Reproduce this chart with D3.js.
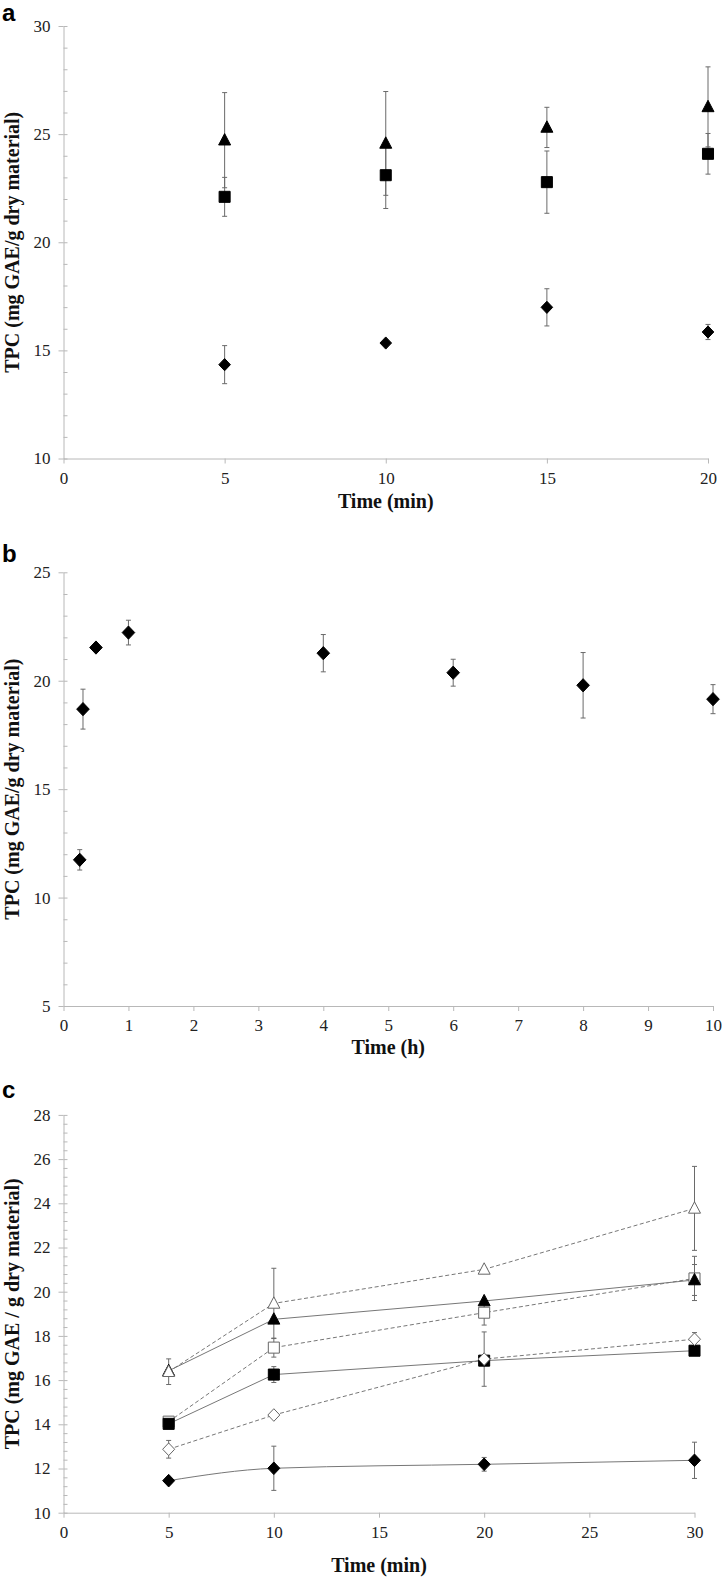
<!DOCTYPE html>
<html>
<head>
<meta charset="utf-8">
<script src="https://cdn.jsdelivr.net/npm/d3@7"></script>
<style>
  html, body { margin: 0; padding: 0; background: #fff; }
  svg { display: block; }
  .ttl { font-family: "Liberation Serif", "Times New Roman", serif; font-weight: bold; font-size: 20px; fill: #111; }
  .plab { font-family: "Liberation Sans", Arial, sans-serif; font-weight: bold; font-size: 24px; fill: #000; }
</style>
</head>
<body>
<svg id="chart" width="722" height="1578"></svg>
<script>
// ---------- Panel a ----------
const aTimes = [5, 10, 15, 20];
const aTriangle = [24.72, 24.57, 25.31, 26.26];
const aTriangleErr = [2.2, 2.4, 0.93, 1.85];
const aSquare = [22.1, 23.1, 22.78, 24.09];
const aSquareErr = [0.9, 1.54, 1.44, 0.94];
const aDiamond = [14.34, 15.34, 16.99, 15.85];
const aDiamondErr = [0.88, 0, 0.86, 0.35];
const aXTicks = [0, 5, 10, 15, 20];
const aYTicks = [10, 15, 20, 25, 30];

// ---------- Panel b ----------
const bTimes = [0.25, 0.3, 0.5, 1, 4, 6, 8, 10];
const bTPC = [11.74, 18.69, 21.53, 22.22, 21.27, 20.37, 19.79, 19.15];
const bErr = [0.47, 0.92, 0, 0.57, 0.86, 0.62, 1.51, 0.67];
const bXTicks = [0, 1, 2, 3, 4, 5, 6, 7, 8, 9, 10];
const bYTicks = [5, 10, 15, 20, 25];

// ---------- Panel c ----------
const cTimes = [5, 10, 20, 30];
const cFilledDiamond = [11.45, 12.01, 12.19, 12.37];
const cFilledDiamondErr = [0, 1.0, 0.31, 0.82];
const cOpenDiamond = [12.87, 14.42, 16.95, 17.85];
const cOpenDiamondErr = [0.4, 0, 1.23, 0.3];
const cFilledSquare = [14.02, 16.25, 16.88, 17.33];
const cFilledSquareErr = [0, 0.36, 0, 0];
const cOpenSquare = [14.12, 17.47, 19.05, 20.6];
const cOpenSquareErr = [0, 0.43, 0.56, 1.0];
const cFilledTriangle = [16.42, 18.75, 19.58, 20.53];
const cFilledTriangleErr = [0, 0, 0, 0.7];
const cOpenTriangle = [16.38, 19.47, 21.01, 23.77];
const cOpenTriangleErr = [0.58, 1.59, 0, 1.9];
const cXTicks = [0, 5, 10, 15, 20, 25, 30];
const cYTicks = [10, 12, 14, 16, 18, 20, 22, 24, 26, 28];

const svg = d3.select("#chart");
const AXIS = "#b8b8b8";
const ERR = "#6a6a6a";
const SERIF = "'Liberation Serif', 'Times New Roman', serif";

function shapePath(shape, s) {
  if (shape === "triangle") return `M0,${-s * 1.1}L${s},${s * 0.8}L${-s},${s * 0.8}Z`;
  if (shape === "square") return `M${-s * 0.92},${-s * 0.92}H${s * 0.92}V${s * 0.92}H${-s * 0.92}Z`;
  return `M0,${-s * 1.05}L${s},0L0,${s * 1.05}L${-s},0Z`;
}

function styleAxis(sel) {
  sel.attr("font-family", SERIF).attr("font-size", 17);
  sel.select(".domain").attr("stroke", AXIS);
  sel.selectAll("line").attr("stroke", AXIS);
  sel.selectAll("text").attr("fill", "#222").style("font-family", SERIF).style("font-size", "17px");
}

function makePanel(cfg) {
  const g = svg.append("g");
  const x = d3.scaleLinear().domain(cfg.xDomain).range(cfg.xRange);
  const y = d3.scaleLinear().domain(cfg.yDomain).range(cfg.yRange);

  // minor y ticks (inside)
  const minor = d3.range(cfg.yDomain[0], cfg.yDomain[1] + 1e-9, cfg.yMinor);
  const gm = g.append("g").attr("transform", `translate(${cfg.xRange[0]},0)`)
    .call(d3.axisRight(y).tickValues(minor).tickSize(4).tickFormat(""));
  gm.select(".domain").remove();
  gm.selectAll("line").attr("stroke", AXIS);

  // y axis
  const gy = g.append("g").attr("transform", `translate(${cfg.xRange[0]},0)`)
    .call(d3.axisLeft(y).tickValues(cfg.yTicks).tickSize(5).tickPadding(8).tickSizeOuter(0));
  styleAxis(gy);

  // x axis
  const gx = g.append("g").attr("transform", `translate(0,${cfg.yRange[0]})`)
    .call(d3.axisBottom(x).tickValues(cfg.xTicks).tickSize(5).tickPadding(8).tickSizeOuter(0));
  styleAxis(gx);

  // titles
  g.append("text").attr("class", "ttl").attr("text-anchor", "middle")
    .attr("x", (cfg.xRange[0] + cfg.xRange[1]) / 2).attr("y", cfg.xTitleY).text(cfg.xTitle);
  const cy = (cfg.yRange[0] + cfg.yRange[1]) / 2;
  g.append("text").attr("class", "ttl").attr("text-anchor", "middle")
    .attr("transform", `translate(19,${cy}) rotate(-90)`).text(cfg.yTitle);
  g.append("text").attr("class", "plab").attr("x", 2).attr("y", cfg.labelY).text(cfg.label);

  // lines
  cfg.series.forEach(s => {
    const pts = cfg.times.map((t, i) => ({ t, v: s.values[i], e: s.errs[i] }));
    if (s.line) {
      g.append("path").datum(pts)
        .attr("fill", "none").attr("stroke", s.lineColor || "#777").attr("stroke-width", 1)
        .attr("stroke-dasharray", s.dash ? "4,2.5" : null)
        .attr("d", d3.line().x(d => x(d.t)).y(d => y(d.v)).curve(s.curve || d3.curveLinear));
    }
  });
  // error bars
  cfg.series.forEach(s => {
    const pts = cfg.times.map((t, i) => ({ t, v: s.values[i], e: s.errs[i] })).filter(d => d.e > 0);
    const eg = g.append("g").attr("stroke", ERR).attr("stroke-width", 1);
    eg.selectAll("line.v").data(pts).join("line")
      .attr("x1", d => x(d.t)).attr("x2", d => x(d.t))
      .attr("y1", d => y(d.v - d.e)).attr("y2", d => y(d.v + d.e));
    eg.selectAll("line.t").data(pts).join("line")
      .attr("x1", d => x(d.t) - 2.5).attr("x2", d => x(d.t) + 2.5)
      .attr("y1", d => y(d.v + d.e)).attr("y2", d => y(d.v + d.e));
    eg.selectAll("line.b").data(pts).join("line")
      .attr("x1", d => x(d.t) - 2.5).attr("x2", d => x(d.t) + 2.5)
      .attr("y1", d => y(d.v - d.e)).attr("y2", d => y(d.v - d.e));
  });
  // markers
  cfg.series.forEach(s => {
    const pts = cfg.times.map((t, i) => ({ t, v: s.values[i] }));
    g.append("g").selectAll("path").data(pts).join("path")
      .attr("transform", d => `translate(${x(d.t)},${y(d.v)})`)
      .attr("d", shapePath(s.shape, s.size))
      .attr("fill", s.open ? "#fff" : "#000")
      .attr("stroke", s.open ? "#666" : "#000")
      .attr("stroke-width", 1);
  });
}

makePanel({
  xDomain: [0, 20], xRange: [63.5, 708], yDomain: [10, 30], yRange: [458.5, 26],
  xTicks: aXTicks, yTicks: aYTicks, yMinor: 1,
  xTitle: "Time (min)", xTitleY: 508, yTitle: "TPC (mg GAE/g dry material)",
  label: "a", labelY: 21, times: aTimes,
  series: [
    { values: aTriangle, errs: aTriangleErr, shape: "triangle", size: 6 },
    { values: aSquare, errs: aSquareErr, shape: "square", size: 6 },
    { values: aDiamond, errs: aDiamondErr, shape: "diamond", size: 5.8 }
  ]
});

makePanel({
  xDomain: [0, 10], xRange: [63.5, 713], yDomain: [5, 25], yRange: [1006, 572.3],
  xTicks: bXTicks, yTicks: bYTicks, yMinor: 1,
  xTitle: "Time (h)", xTitleY: 1054, yTitle: "TPC (mg GAE/g dry material)",
  label: "b", labelY: 562, times: bTimes,
  series: [
    { values: bTPC, errs: bErr, shape: "diamond", size: 6.3 }
  ]
});

makePanel({
  xDomain: [0, 30], xRange: [63.5, 694.5], yDomain: [10, 28], yRange: [1512.7, 1114.9],
  xTicks: cXTicks, yTicks: cYTicks, yMinor: 0.4,
  xTitle: "Time (min)", xTitleY: 1572, yTitle: "TPC (mg GAE / g dry material)",
  label: "c", labelY: 1098, times: cTimes,
  series: [
    { values: cOpenSquare, errs: cOpenSquareErr, shape: "square", size: 6, open: true, line: true, dash: true },
    { values: cFilledSquare, errs: cFilledSquareErr, shape: "square", size: 6, line: true },
    { values: cOpenDiamond, errs: cOpenDiamondErr, shape: "diamond", size: 6, open: true, line: true, dash: true },
    { values: cFilledTriangle, errs: cFilledTriangleErr, shape: "triangle", size: 6, line: true },
    { values: cOpenTriangle, errs: cOpenTriangleErr, shape: "triangle", size: 6, open: true, line: true, dash: true },
    { values: cFilledDiamond, errs: cFilledDiamondErr, shape: "diamond", size: 6, line: true, curve: d3.curveMonotoneX }
  ]
});
</script>
</body>
</html>
